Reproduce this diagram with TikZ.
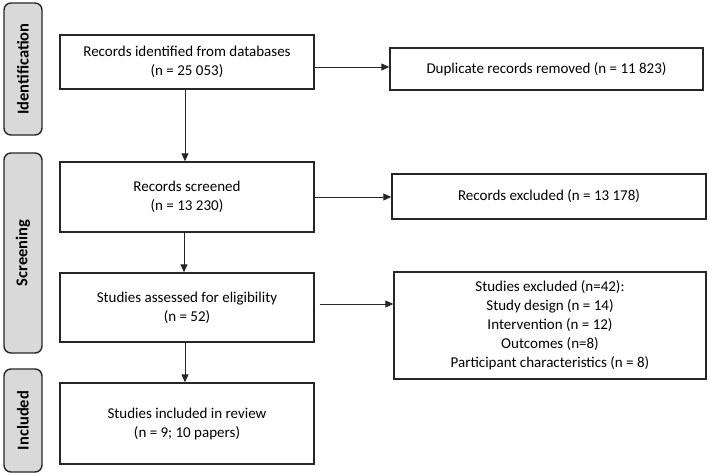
\documentclass[tikz,border=0pt]{standalone}
\usepackage{fontspec}
\setmainfont{Carlito}
\usetikzlibrary{arrows.meta,calc}
\definecolor{edge}{HTML}{262626}
\definecolor{phase}{HTML}{D9D9D9}
\tikzset{
  box/.style={draw=edge, line width=1.4pt, fill=white, align=center, inner sep=2pt, font=\fontsize{15}{19}\selectfont, text=black},
  phaselbl/.style={draw=edge, line width=1.4pt, fill=phase, rounded corners=7pt, rotate=90, inner sep=0pt, font=\bfseries\fontsize{16.5}{19}\selectfont, text=black},
  conn/.style={draw=edge, line width=0.9pt, -{Triangle[length=8pt,width=7pt]}}
}
\begin{document}
\begin{tikzpicture}[x=1pt,y=-1pt]
\useasboundingbox[fill=white] (0,0) rectangle (709,474);
% phase labels
\node[phaselbl, minimum width=132pt, minimum height=38pt] (ident) at (23,69) {Identification};
\node[phaselbl, minimum width=200pt, minimum height=38pt] (screen) at (23,253) {Screening};
\node[phaselbl, minimum width=103pt, minimum height=38pt] (incl) at (23,420.5) {Included};
% main boxes
\node[box, minimum width=254pt, minimum height=54pt] (b1) at (187,62) {Records identified from databases\\(n = 25 053)};
\node[box, minimum width=254pt, minimum height=70pt] (b2) at (187,197) {Records screened\\(n = 13 230)};
\node[box, minimum width=254pt, minimum height=69pt] (b3) at (187,307.5) {Studies assessed for eligibility\\(n = 52)};
\node[box, minimum width=254pt, minimum height=81pt] (b4) at (187,423.5) {Studies included in review\\(n = 9; 10 papers)};
% side boxes
\node[box, minimum width=313pt, minimum height=42pt] (dup) at (546.5,69) {Duplicate records removed (n = 11 823)};
\node[box, minimum width=314pt, minimum height=45pt] (rex) at (549,196.5) {Records excluded (n = 13 178)};
\node[box, minimum width=312pt, minimum height=107pt] (sex) at (550,325.5) {Studies excluded (n=42):\\Study design (n = 14)\\Intervention (n = 12)\\Outcomes (n=8)\\Participant characteristics (n = 8)};
% connectors
\draw[conn] (b1.south -| 185,0) -- (b2.north -| 185,0);
\draw[conn] (b2.south -| 184,0) -- (b3.north -| 184,0);
\draw[conn] (b3.south -| 185,0) -- (b4.north -| 185,0);
\draw[conn] ([yshift=-5pt]b1.east) -- ([yshift=-5pt]b1.east -| dup.west);
\draw[conn] (b2.east) -- (b2.east -| rex.west);
\draw[conn] ([yshift=3.5pt,xshift=5pt]b3.east) -- ([yshift=3.5pt]b3.east -| sex.west);
\end{tikzpicture}
\end{document}
